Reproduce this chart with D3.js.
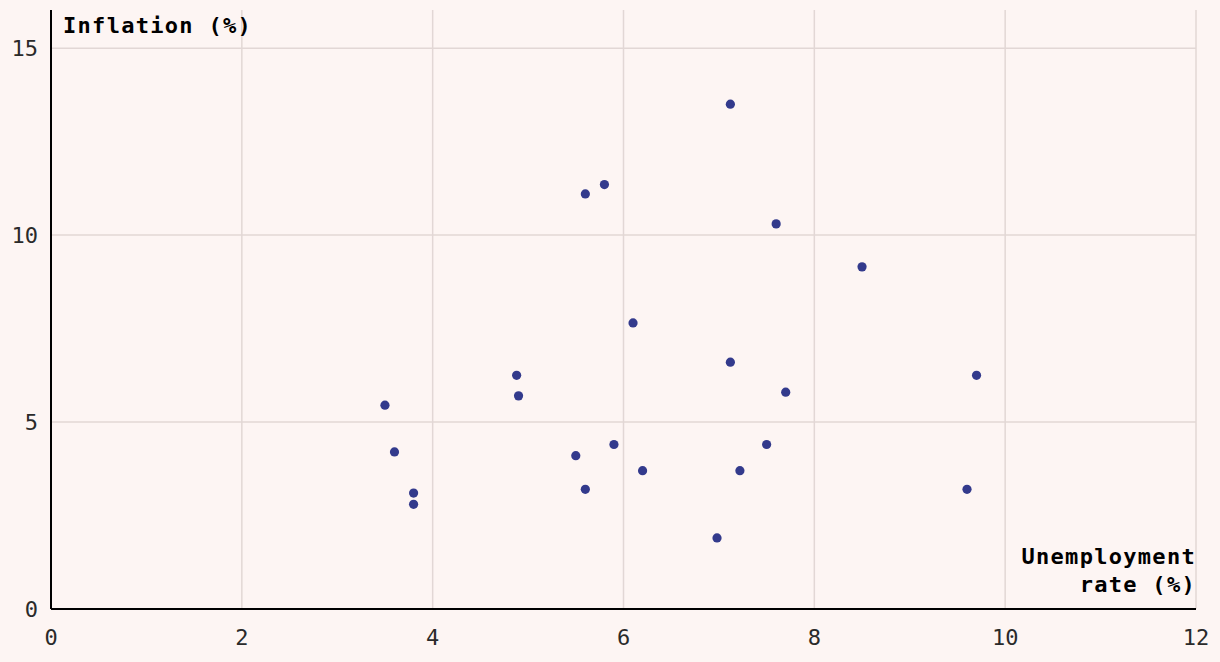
<!DOCTYPE html>
<html>
<head>
<meta charset="utf-8">
<script src="https://cdn.jsdelivr.net/npm/d3@7"></script>
<style>
  html, body { margin: 0; padding: 0; background: #fdf5f3; }
  text { font-family: "DejaVu Sans Mono", "Liberation Mono", monospace; }
</style>
</head>
<body>
<div id="chart"></div>
<script>
var unemployment = [7.12, 5.8, 5.6, 7.6, 8.5, 6.1, 7.12, 9.7, 4.88, 7.7, 4.9, 3.5, 5.9, 7.5, 3.6, 5.5, 6.2, 7.22, 5.6, 9.6, 3.8, 3.8, 6.98];
var inflation    = [13.5, 11.35, 11.1, 10.3, 9.15, 7.65, 6.6, 6.25, 6.25, 5.8, 5.7, 5.45, 4.4, 4.4, 4.2, 4.1, 3.7, 3.7, 3.2, 3.2, 3.1, 2.8, 1.9];
var xTicks = [0, 2, 4, 6, 8, 10, 12];
var yTicks = [0, 5, 10, 15];

var W = 1220, H = 662;
var margin = {top: 10, right: 24, bottom: 53, left: 51};
var width = W - margin.left - margin.right,
    height = H - margin.top - margin.bottom;

var svg = d3.select("#chart").append("svg")
  .attr("width", W).attr("height", H)
  .style("background", "#fdf5f3");

var g = svg.append("g")
  .attr("transform", "translate(" + margin.left + "," + margin.top + ")");

var x = d3.scaleLinear().domain([0, 12]).range([0, width]);
var y = d3.scaleLinear().domain([0, 16.02]).range([height, 0]);

// grid
g.append("g").selectAll("line").data(xTicks.slice(1)).enter().append("line")
  .attr("x1", d => x(d)).attr("x2", d => x(d))
  .attr("y1", 0).attr("y2", height)
  .attr("stroke", "#e2d7d5").attr("stroke-width", 1.5);
g.append("g").selectAll("line").data(yTicks.slice(1)).enter().append("line")
  .attr("x1", 0).attr("x2", width)
  .attr("y1", d => y(d)).attr("y2", d => y(d))
  .attr("stroke", "#e2d7d5").attr("stroke-width", 1.5);

// axes lines
g.append("line").attr("x1", 0).attr("x2", 0).attr("y1", 0).attr("y2", height)
  .attr("stroke", "#000").attr("stroke-width", 2);
g.append("line").attr("x1", 0).attr("x2", width).attr("y1", height).attr("y2", height)
  .attr("stroke", "#000").attr("stroke-width", 2);

// tick labels
g.append("g").selectAll("text").data(xTicks).enter().append("text")
  .attr("x", d => x(d)).attr("y", height + 36)
  .attr("text-anchor", "middle").attr("font-size", "22px").attr("fill", "#2a2a2a")
  .text(d => d);
g.append("g").selectAll("text").data(yTicks).enter().append("text")
  .attr("x", -13).attr("y", d => y(d)).attr("dy", "0.36em")
  .attr("text-anchor", "end").attr("font-size", "22px").attr("fill", "#2a2a2a")
  .text(d => d);

// axis titles
g.append("text").attr("x", 12).attr("y", 23)
  .attr("font-size", "22px").attr("font-weight", "bold").attr("fill", "#000")
  .attr("letter-spacing", "1.3px")
  .text("Inflation (%)");
var xt = g.append("text").attr("text-anchor", "end")
  .attr("font-size", "22px").attr("font-weight", "bold").attr("fill", "#000")
  .attr("letter-spacing", "1.3px");
xt.append("tspan").attr("x", width).attr("y", height - 45).text("Unemployment");
xt.append("tspan").attr("x", width).attr("y", height - 17).text("rate (%)");

// points
g.append("g").selectAll("circle").data(unemployment).enter().append("circle")
  .attr("cx", (d, i) => x(d))
  .attr("cy", (d, i) => y(inflation[i]))
  .attr("r", 4.6)
  .attr("fill", "#333a8c");
</script>
</body>
</html>
